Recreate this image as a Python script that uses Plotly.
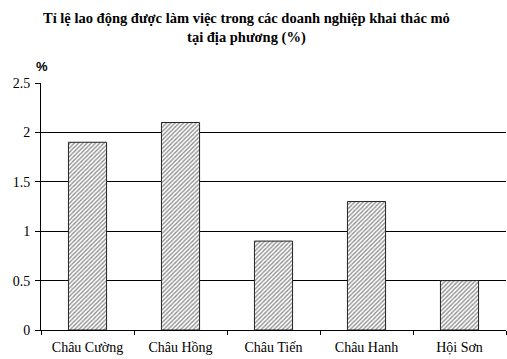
import plotly.graph_objects as go

communes = ["Châu Cường", "Châu Hồng", "Châu Tiến", "Châu Hanh", "Hội Sơn"]
rates = [1.9, 2.1, 0.9, 1.3, 0.5]
y_ticks = [0, 0.5, 1, 1.5, 2, 2.5]
y_tick_text = ["0", "0.5", "1", "1.5", "2", "2.5"]

serif = "Liberation Serif"

fig = go.Figure(
    go.Bar(
        x=communes,
        y=rates,
        marker=dict(
            color="white",
            line=dict(color="#222222", width=1),
            pattern=dict(shape="/", fgcolor="#222222", bgcolor="white",
                         size=3, solidity=0.45),
        ),
        width=0.41,
    )
)

fig.update_layout(
    width=507,
    height=359,
    margin=dict(l=41, r=1, t=83, b=29),
    paper_bgcolor="white",
    plot_bgcolor="white",
    showlegend=False,
    font=dict(family=serif, size=14, color="black"),
    xaxis=dict(
        type="category",
        showline=True,
        linecolor="black",
        linewidth=1,
        ticks="outside",
        tickson="boundaries",
        ticklen=4,
        tickcolor="black",
        showgrid=False,
        ticklabelstandoff=4,
        tickfont=dict(family=serif, size=14, color="black"),
    ),
    yaxis=dict(
        range=[0, 2.5],
        tickvals=y_ticks,
        ticktext=y_tick_text,
        showline=True,
        linecolor="black",
        linewidth=1,
        ticks="outside",
        ticklen=5,
        tickcolor="black",
        showgrid=True,
        gridcolor="black",
        gridwidth=1,
        zeroline=False,
        ticklabelstandoff=2,
        tickfont=dict(family=serif, size=14, color="black"),
    ),
    annotations=[
        dict(
            text="<b>Tỉ lệ lao động được làm việc trong các doanh nghiệp khai thác mỏ<br>tại địa phương (%)</b>",
            xref="paper", x=(246 - 41) / 465, xanchor="center",
            yref="paper", y=1 + (83 - 8) / 247, yanchor="top",
            showarrow=False,
            font=dict(family=serif, size=14.5, color="black"),
        ),
        dict(
            text="<b>%</b>",
            xref="paper", x=(34 - 41) / 465,
            yref="paper", y=1 + (83 - 57) / 247,
            showarrow=False,
            font=dict(family="Liberation Sans", size=13, color="black"),
        ),
    ],
)

fig.write_html("out.html")
